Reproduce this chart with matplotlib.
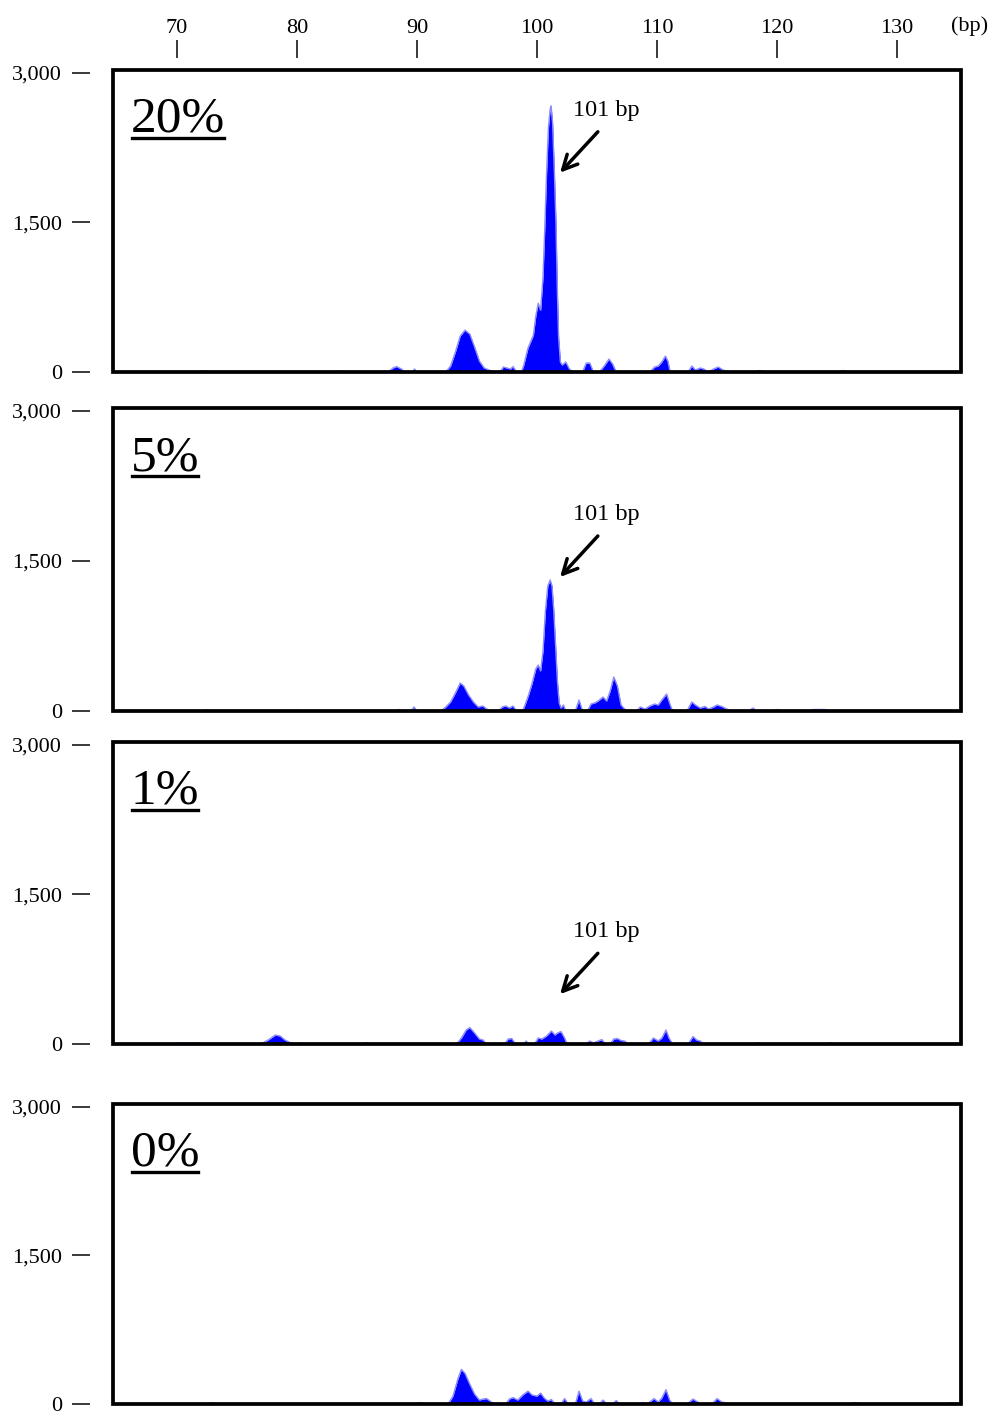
import matplotlib
matplotlib.use("Agg")
import matplotlib.pyplot as plt
from matplotlib.patches import Rectangle
from matplotlib.lines import Line2D

plt.rcParams['font.family'] = ['Liberation Serif', 'DejaVu Serif']

# traced outlines of the four electropherograms (size in bp, signal in RFU)
bp_20 = [64.7, 71.5, 72.3, 73.2, 83.0, 83.6, 84.2, 87.6, 88.0, 88.3, 88.7, 89.0, 89.6, 89.8, 90.0,
         92.4, 92.8, 93.2, 93.6, 94.0, 94.4, 94.8, 95.2, 95.6, 96.0, 96.4, 96.9, 97.2, 97.5, 97.8, 98.0, 98.3,
         98.7, 98.9, 99.25, 99.7, 99.9, 100.1, 100.3, 100.5, 100.65, 100.8, 100.95, 101.1, 101.17, 101.3,
         101.45, 101.58, 101.7, 101.8, 101.95, 102.1, 102.4, 102.7, 103.0, 103.8, 104.1, 104.4, 104.7, 105.2,
         105.6, 106.0, 106.3, 106.6, 109.4, 109.8, 110.1, 110.4, 110.7, 110.9, 111.1, 112.6, 112.9, 113.2,
         113.6, 113.9, 114.3, 114.7, 115.1, 115.5, 116.0, 118.0, 118.5, 119.3, 125.0, 125.5, 126.0, 135.4]
rfu_20 = [0, 0, 12, 0, 0, 10, 0, 0, 40, 55, 30, 0, 0, 30, 0,
          0, 60, 200, 360, 420, 380, 250, 110, 40, 20, 0, 0, 50, 40, 30, 55, 0,
          0, 70, 240, 370, 560, 690, 620, 950, 1450, 2000, 2450, 2640, 2670, 2500,
          2000, 1500, 800, 350, 100, 70, 100, 30, 0, 0, 90, 90, 0, 0,
          60, 130, 80, 0, 0, 50, 60, 100, 160, 110, 0, 0, 60, 20,
          40, 30, 0, 30, 50, 20, 0, 0, 15, 0, 0, 15, 0, 0]

bp_5 = [64.7, 72.0, 72.4, 73.0, 79.5, 80.0, 80.5, 88.2, 88.5, 88.8, 89.5, 89.75, 90.0, 90.3, 90.6, 90.9,
        92.0, 92.4, 92.8, 93.2, 93.6, 93.9, 94.3, 94.7, 95.1, 95.5, 95.8, 96.1, 96.8, 97.1, 97.4, 97.7, 98.0, 98.3,
        98.8, 99.0, 99.3, 99.6, 99.9, 100.1, 100.3, 100.5, 100.7, 100.9, 101.1, 101.25, 101.4, 101.55, 101.7,
        101.85, 102.0, 102.2, 102.4, 103.2, 103.5, 103.8, 104.2, 104.5, 104.8, 105.1, 105.5, 105.8, 106.1, 106.4,
        106.7, 107.0, 107.3, 107.6, 108.3, 108.6, 109.0, 109.4, 109.8, 110.1, 110.4, 110.8, 111.1, 111.3,
        112.5, 112.9, 113.2, 113.6, 114.0, 114.3, 114.7, 115.0, 115.4, 115.8, 116.2, 117.6, 118.0, 118.3,
        119.5, 120.0, 120.5, 122.5, 123.0, 124.0, 124.5, 127.0, 127.4, 128.0, 135.4]
rfu_5 = [0, 0, 12, 0, 0, 10, 0, 0, 15, 0, 0, 40, 0, 0, 10, 0,
         0, 40, 90, 180, 280, 250, 160, 90, 40, 50, 20, 0, 0, 40, 50, 30, 50, 0,
         0, 60, 160, 280, 420, 460, 400, 600, 1000, 1250, 1310, 1250, 1000, 650, 300,
         80, 30, 60, 0, 0, 110, 0, 0, 70, 80, 100, 140, 100, 200, 340,
         250, 60, 20, 0, 0, 40, 20, 50, 70, 60, 110, 170, 60, 0,
         0, 90, 60, 30, 45, 20, 40, 60, 45, 20, 0, 0, 30, 0,
         0, 15, 0, 0, 15, 15, 0, 0, 10, 0, 0]

bp_1 = [64.7, 69.4, 70.0, 71.7, 72.2, 77.0, 77.6, 78.2, 78.6, 79.0, 79.5, 79.9, 80.2, 80.6, 85.4, 85.8, 86.2,
        93.3, 93.7, 94.1, 94.4, 94.8, 95.2, 95.5, 95.8, 97.3, 97.6, 97.9, 98.2, 98.9, 99.1, 99.3,
        99.8, 100.1, 100.4, 100.8, 101.2, 101.5, 101.7, 102.0, 102.3, 102.5, 104.1, 104.4, 104.7, 105.1,
        105.4, 105.7, 106.1, 106.4, 106.7, 107.0, 107.3, 107.6, 109.3, 109.7, 110.1, 110.4, 110.75, 111.0,
        111.3, 112.6, 113.0, 113.3, 113.6, 113.9, 118.0, 118.4, 118.8, 124.0, 124.5, 125.0, 135.4]
rfu_1 = [0, 0, 10, 10, 0, 0, 40, 90, 80, 40, 10, 0, 10, 0, 0, 12, 0,
         0, 60, 140, 165, 110, 50, 40, 0, 0, 50, 55, 0, 0, 30, 0,
         0, 60, 50, 80, 130, 90, 110, 125, 60, 0, 0, 30, 10, 30,
         45, 0, 0, 50, 55, 35, 30, 0, 0, 60, 30, 60, 140, 60,
         0, 0, 75, 40, 30, 0, 0, 12, 0, 0, 12, 0, 0]

bp_0 = [64.7, 72.4, 72.9, 73.5, 89.7, 90.3, 91.1, 92.6, 93.0, 93.4, 93.7, 94.0, 94.4, 94.8, 95.2, 95.5,
        95.8, 96.2, 96.5, 97.4, 97.7, 98.0, 98.4, 98.8, 99.25, 99.6, 100.0, 100.3, 100.6, 100.9, 101.2,
        101.5, 102.0, 102.3, 102.6, 103.2, 103.5, 103.8, 104.1, 104.5, 104.8, 105.2, 105.5, 105.8, 106.3,
        106.6, 106.9, 108.5, 108.8, 109.2, 109.4, 109.75, 110.1, 110.4, 110.75, 111.05, 111.3, 112.5,
        113.0, 113.4, 113.7, 114.6, 115.0, 115.4, 115.8, 116.1, 126.0, 126.5, 127.0, 134.0, 134.4, 135.4]
rfu_0 = [0, 0, 12, 0, 0, 15, 0, 0, 80, 250, 350, 310, 200, 100, 40, 50,
         55, 20, 0, 0, 50, 65, 40, 90, 130, 90, 80, 110, 60, 30, 45,
         0, 0, 55, 0, 0, 130, 30, 20, 55, 0, 0, 40, 0, 0,
         35, 0, 0, 15, 0, 20, 55, 20, 60, 145, 40, 0, 0,
         50, 20, 0, 0, 55, 20, 10, 0, 0, 15, 0, 0, 10, 0]

panel_labels = ['20%', '5%', '1%', '0%']
traces = [(bp_20, rfu_20), (bp_5, rfu_5), (bp_1, rfu_1), (bp_0, rfu_0)]
# arrow tip (bp, RFU) for the "101 bp" call-out, None where absent
arrow_tips = [(101.92, 2000), (101.92, 1340), (101.92, 500), None]

x_ticks = [70, 80, 90, 100, 110, 120, 130]
y_ticks = [0, 1500, 3000]
y_ticklabels = ['0', '1,500', '3,000']

W, H = 992, 1416
fig = plt.figure(figsize=(W / 100, H / 100), dpi=100)

# panel frames in pixels (top, bottom)
frames = [(70, 372), (408, 711), (742, 1044), (1104, 1404)]
left_px, right_px = 113, 961
px = 72 / 100  # points per pixel

axes = []
for i, (top, bot) in enumerate(frames):
    ax = fig.add_axes([left_px / W, 1 - bot / H, (right_px - left_px) / W, (bot - top) / H])
    bp, rfu = traces[i]
    ax.fill_between(bp, rfu, 0, color='#0000ff', lw=0, zorder=2)
    ax.plot(bp, rfu, color='#8c8cff', lw=1.0, zorder=3)
    ax.set_xlim(64.67, 135.33)
    ax.set_ylim(0, 3030)

    for s in ax.spines.values():
        s.set_visible(False)
    ax.spines['left'].set_position(('outward', 23 * px))
    ax.set_yticks(y_ticks)
    ax.set_yticklabels(y_ticklabels)
    ax.tick_params(axis='y', length=18 * px, width=1.5 * px, pad=10 * px, labelsize=16)

    if i == 0:
        ax.xaxis.set_ticks_position('top')
        ax.spines['top'].set_position(('outward', 12 * px))
        ax.set_xticks(x_ticks)
        ax.tick_params(axis='x', length=18 * px, width=1.5 * px, pad=2 * px, labelsize=16)
    else:
        ax.set_xticks([])

    ax.add_patch(Rectangle((0, 0), 1, 1, transform=ax.transAxes, fill=False,
                           ec='black', lw=2.7, clip_on=False, zorder=6))

    # percentage label
    ax.text(0.021, 0.795, panel_labels[i], transform=ax.transAxes, fontsize=37,
            ha='left', va='baseline', zorder=7)

    tip = arrow_tips[i]
    if tip is not None:
        tail = (tip[0] + 3.15, tip[1] + 410)
        ax.annotate('', xy=tip, xytext=tail,
                    arrowprops=dict(arrowstyle='->', lw=2.5, color='black',
                                    mutation_scale=26, shrinkA=0, shrinkB=0))
        ax.text(tail[0] + 0.7, tail[1] + 215, '101 bp', fontsize=17.5,
                ha='center', va='center')
    axes.append(ax)

fig.text(970 / W, 1 - 26 / H, '(bp)', fontsize=16, ha='center', va='center')

# underline the percentage labels
fig.canvas.draw()
renderer = fig.canvas.get_renderer()
for ax in axes:
    for t in ax.texts:
        if t.get_text().endswith('%'):
            bb = t.get_window_extent(renderer)
            x0, y0 = t.get_transform().transform(t.get_position())
            yl = y0 - 6
            fig.add_artist(Line2D([bb.x0 + 1, bb.x1 - 1], [yl, yl], transform=None,
                                  color='black', lw=2.4))

fig.savefig('out.png', dpi=100)
